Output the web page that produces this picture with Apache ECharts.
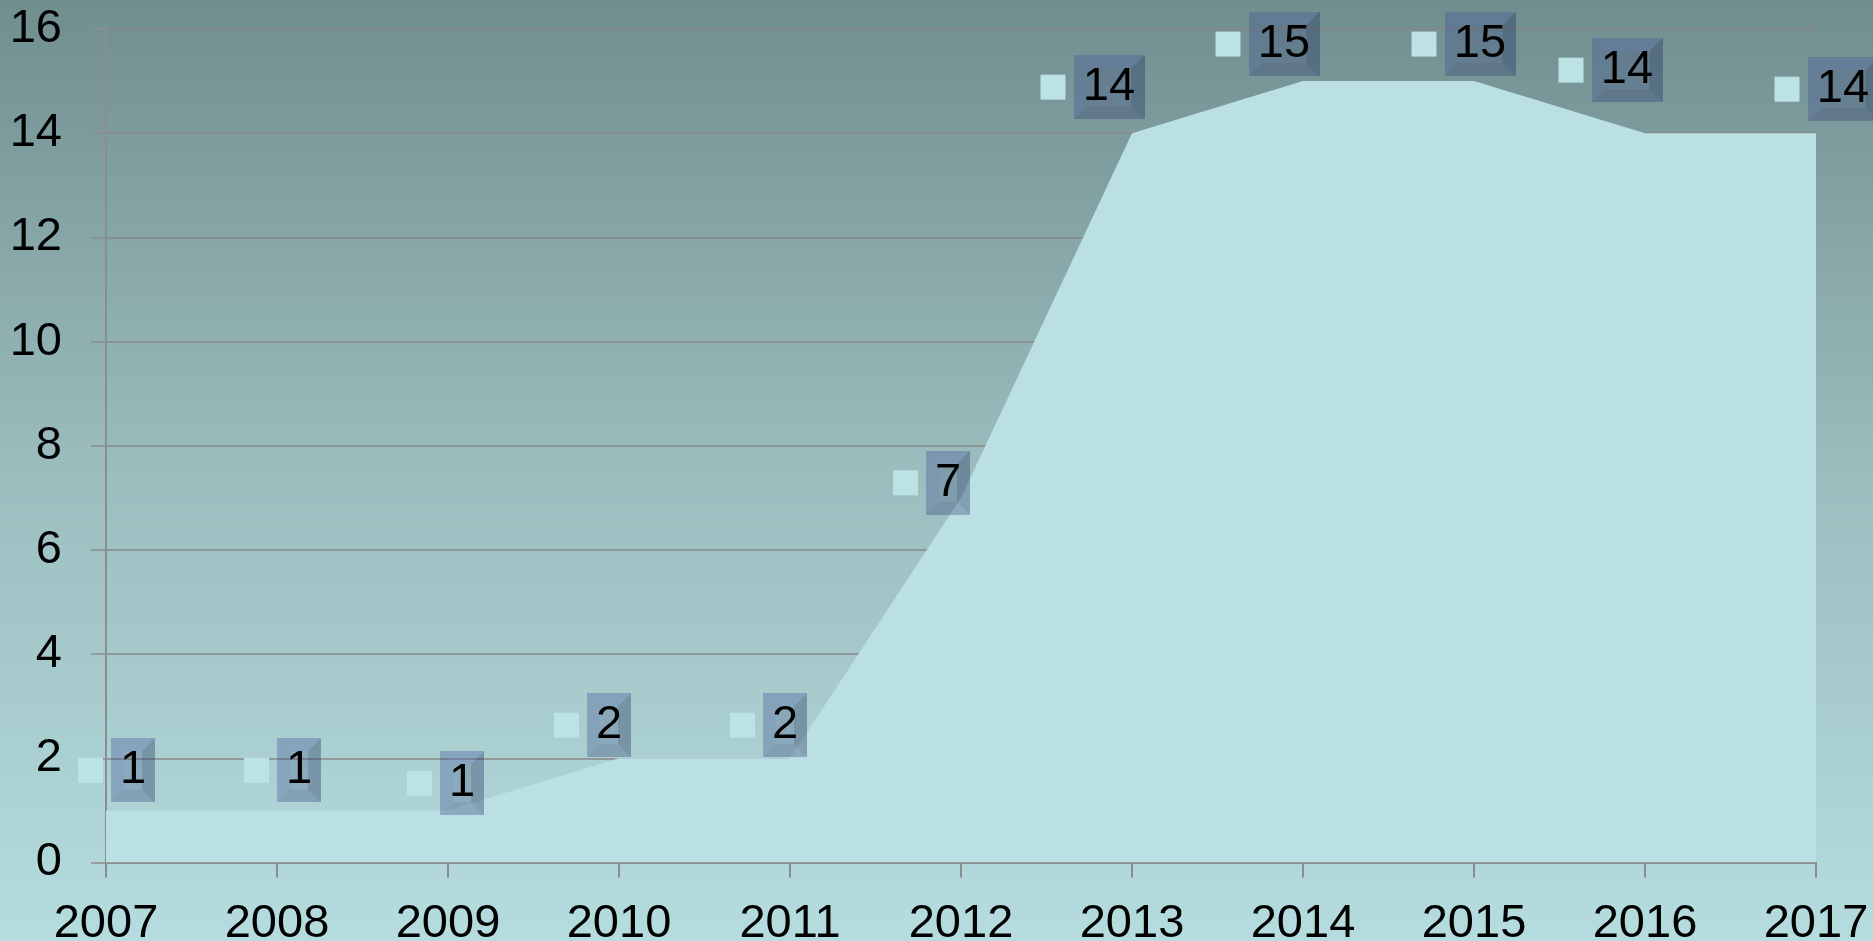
<!DOCTYPE html>
<html>
<head>
<meta charset="utf-8">
<style>
  html, body { margin: 0; padding: 0; }
  #chart { width: 1873px; height: 941px; }
</style>
<script src="https://cdn.jsdelivr.net/npm/echarts@6/dist/echarts.min.js"></script>
</head>
<body>
<div id="chart"></div>
<script>
// data
const years = ['2007', '2008', '2009', '2010', '2011', '2012', '2013', '2014', '2015', '2016', '2017'];
const counts = [1, 1, 1, 2, 2, 7, 14, 15, 15, 14, 14];
const yMax = 16;
const yStep = 2;

// where each data label box sits relative to its point (px, box centre)
const labelNudge = [
  [27, -40], [22, -40], [14, -27], [-10, -33], [-5, -33], [-13, -15],
  [-23, -46], [-19, -37], [6, -37], [-18, -63], [27, -44]
];

const FONT = '"Liberation Sans", Arial, sans-serif';
const AXIS_GREY = '#8d8d8d';

// bevelled label box, drawn once per size
function bevel (w, h) {
  const c = document.createElement('canvas');
  c.width = w;
  c.height = h;
  const g = c.getContext('2d');
  const b = 13;
  const face = (pts, col) => {
    g.beginPath();
    pts.forEach((p, i) => i ? g.lineTo(p[0], p[1]) : g.moveTo(p[0], p[1]));
    g.closePath();
    g.fillStyle = col;
    g.fill();
  };
  g.fillStyle = 'rgba(45,60,125,0.26)';
  g.fillRect(0, 0, w, h);
  face([[0, 0], [w, 0], [w - b, b], [b, b]], 'rgba(110,130,210,0.14)');   // top
  face([[0, 0], [b, b], [b, h - b], [0, h]], 'rgba(100,120,200,0.10)');   // left
  face([[w, 0], [w, h], [w - b, h - b], [w - b, b]], 'rgba(10,20,50,0.14)'); // right
  face([[0, h], [b, h - b], [w - b, h - b], [w, h]], 'rgba(20,30,70,0.08)'); // bottom
  return c;
}

const boxCommon = {
  height: 64,
  lineHeight: 64,
  align: 'center',
  verticalAlign: 'middle',
  fontSize: 47,
  fontFamily: FONT,
  color: '#000',
  shadowBlur: 8,
  shadowColor: 'rgba(0,0,0,0.22)',
  shadowOffsetX: 2,
  shadowOffsetY: 3
};

// label block = square(25) + gap(8) + box; box centre is 16.5px right of block centre
const seriesData = counts.map((v, i) => ({
  value: v,
  label: { offset: [labelNudge[i][0] - 16.5, labelNudge[i][1]] }
}));

const chart = echarts.init(document.getElementById('chart'));
const option = {
  animation: false,
  backgroundColor: {
    type: 'linear', x: 0, y: 0, x2: 0, y2: 1,
    colorStops: [
      { offset: 0, color: '#718e8f' },
      { offset: 0.5, color: '#9bbdbe' },
      { offset: 1, color: '#b5dcdf' }
    ]
  },
  grid: { left: 106, right: 57, top: 29, bottom: 78.5, containLabel: false, outerBoundsMode: 'none' },
  xAxis: {
    type: 'category',
    data: years,
    boundaryGap: false,
    axisLine: { lineStyle: { color: AXIS_GREY, width: 2 } },
    axisTick: { length: 15, lineStyle: { color: AXIS_GREY, width: 2 } },
    axisLabel: { fontSize: 47, fontFamily: FONT, color: '#000', margin: 38 },
    splitLine: { show: false }
  },
  yAxis: {
    type: 'value',
    min: 0,
    max: yMax,
    interval: yStep,
    axisLine: { show: true, lineStyle: { color: AXIS_GREY, width: 2 } },
    axisTick: { show: true, length: 15, lineStyle: { color: AXIS_GREY, width: 1.5 } },
    axisLabel: { fontSize: 47, fontFamily: FONT, color: '#000', margin: 44 },
    splitLine: { lineStyle: { color: '#898787', width: 1.5 } }
  },
  series: [
    {
      type: 'line',
      data: seriesData,
      symbol: 'rect',
      symbolSize: 1,
      itemStyle: { color: 'rgba(0,0,0,0)' },
      lineStyle: { width: 0, opacity: 0 },
      areaStyle: { color: '#bae0e3', opacity: 1 },
      emphasis: { disabled: true },
      z: 2,
      label: {
        show: true,
        position: 'inside',
        formatter: p => '{s| }{g| }{' + (String(p.value).length > 1 ? 'b2' : 'b1') + '|' + p.value + '}',
        rich: {
          s: { width: 25, height: 25, backgroundColor: '#bde2e4', verticalAlign: 'middle' },
          g: { width: 8, height: 25 },
          b1: Object.assign({ width: 44, backgroundColor: { image: bevel(44, 64) } }, boxCommon),
          b2: Object.assign({ width: 71, backgroundColor: { image: bevel(71, 64) } }, boxCommon)
        }
      }
    }
  ]
};
chart.setOption(option);
</script>
</body>
</html>
